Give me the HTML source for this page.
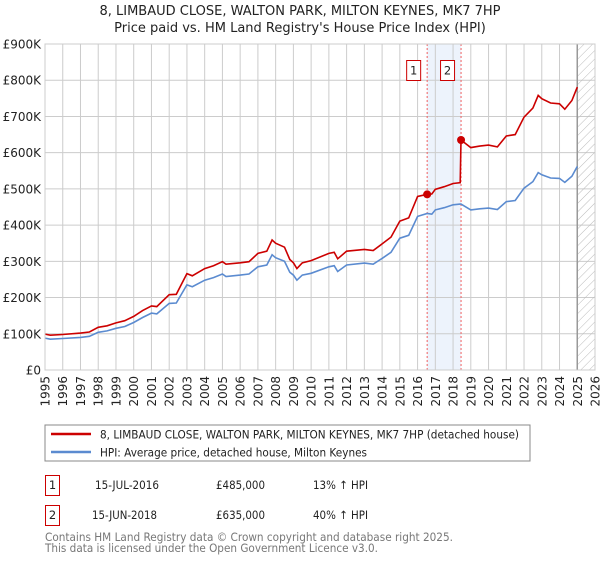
<!DOCTYPE html>
<html><head><meta charset="utf-8"><style>
body{margin:0;background:#fff;font-family:"Liberation Sans","DejaVu Sans",sans-serif}
svg text{font-family:"DejaVu Sans","Liberation Sans",sans-serif}
</style></head><body>
<svg width="600" height="560" xmlns="http://www.w3.org/2000/svg" id="chart">
<defs><pattern id="hatch" width="6" height="6" patternUnits="userSpaceOnUse" patternTransform="rotate(45)"><line x1="0" y1="0" x2="0" y2="6" stroke="#bbb" stroke-width="1"/></pattern></defs>
<text x="300" y="15" text-anchor="middle" font-size="13" fill="#222">8, LIMBAUD CLOSE, WALTON PARK, MILTON KEYNES, MK7 7HP</text>
<text x="300" y="32" text-anchor="middle" font-size="13" fill="#222">Price paid vs. HM Land Registry's House Price Index (HPI)</text>
<g id="grid"></g><g id="marks"></g><g id="axes"></g>
<rect x="45" y="425" width="485" height="36" fill="#fff" stroke="#888"/>
<line x1="51" y1="434" x2="91" y2="434" stroke="#cc0000" stroke-width="2.5"/>
<text x="100" y="438.5" font-size="11.5" fill="#222" textLength="419" lengthAdjust="spacingAndGlyphs">8, LIMBAUD CLOSE, WALTON PARK, MILTON KEYNES, MK7 7HP (detached house)</text>
<line x1="51" y1="452" x2="91" y2="452" stroke="#5b8bd0" stroke-width="2.5"/>
<text x="100" y="456.5" font-size="11.5" fill="#222" textLength="267" lengthAdjust="spacingAndGlyphs">HPI: Average price, detached house, Milton Keynes</text>
<rect x="45.5" y="475.5" width="14" height="20" fill="#fff" stroke="#cc0000"/>
<text x="52.5" y="489" text-anchor="middle" font-size="11.5" fill="#222">1</text>
<text x="95" y="489" font-size="11.5" fill="#222" textLength="64" lengthAdjust="spacingAndGlyphs">15-JUL-2016</text>
<text x="216" y="489" font-size="11.5" fill="#222" textLength="49" lengthAdjust="spacingAndGlyphs">£485,000</text>
<text x="313" y="489" font-size="11.5" fill="#222" textLength="55" lengthAdjust="spacingAndGlyphs">13% ↑ HPI</text>
<rect x="45.5" y="505.5" width="14" height="20" fill="#fff" stroke="#cc0000"/>
<text x="52.5" y="519" text-anchor="middle" font-size="11.5" fill="#222">2</text>
<text x="92" y="519" font-size="11.5" fill="#222" textLength="65" lengthAdjust="spacingAndGlyphs">15-JUN-2018</text>
<text x="216" y="519" font-size="11.5" fill="#222" textLength="49" lengthAdjust="spacingAndGlyphs">£635,000</text>
<text x="313" y="519" font-size="11.5" fill="#222" textLength="55" lengthAdjust="spacingAndGlyphs">40% ↑ HPI</text>
<text x="45" y="541" font-size="11.5" fill="#777" textLength="408" lengthAdjust="spacingAndGlyphs">Contains HM Land Registry data © Crown copyright and database right 2025.</text>
<text x="45" y="552" font-size="11.5" fill="#777" textLength="333" lengthAdjust="spacingAndGlyphs">This data is licensed under the Open Government Licence v3.0.</text>
</svg>
<script>
const times=[1995,1995.3,1996,1997,1997.5,1998,1998.5,1999,1999.5,2000,2000.5,2001,2001.3,2002,2002.4,2003,2003.3,2004,2004.5,2005,2005.2,2006,2006.5,2007,2007.5,2007.8,2008,2008.5,2008.8,2009,2009.2,2009.5,2010,2011,2011.3,2011.5,2012,2013,2013.5,2014,2014.5,2015,2015.5,2016,2016.54,2016.8,2017,2017.5,2018,2018.4,2018.45,2019,2019.5,2020,2020.5,2021,2021.5,2022,2022.5,2022.8,2023,2023.5,2024,2024.3,2024.7,2025];
const hpiValues=[88,85,87,90,93,104,108,115,120,131,145,157,155,184,185,235,230,248,255,265,258,262,265,285,290,318,310,300,270,262,248,262,267,285,288,272,290,295,292,308,325,364,372,424,432,430,442,448,456,458,458,442,445,447,443,465,468,502,520,545,539,530,529,518,535,562];
const propValues=[99,96,98,102,105,118,122,130,136,148,164,177,175,208,209,266,260,280,288,299,292,296,299,322,328,359,350,339,305,296,280,296,302,322,325,307,328,333,330,348,367,411,420,479,485,486,499,506,515,517,635,614,618,621,616,646,650,698,723,758,749,737,735,720,744,781];
const saleTimes=[2016.54,2018.45];
const salePrices=[485,635];
const saleLabels=["1","2"];
const yTicks=[0,100,200,300,400,500,600,700,800,900];
const yTickLabels=["£0","£100K","£200K","£300K","£400K","£500K","£600K","£700K","£800K","£900K"];
const xYears=[1995,1996,1997,1998,1999,2000,2001,2002,2003,2004,2005,2006,2007,2008,2009,2010,2011,2012,2013,2014,2015,2016,2017,2018,2019,2020,2021,2022,2023,2024,2025,2026];
const dataEnd=2025;
const X0=45,X1=595,Y0=370,Y1=44;
const sx=t=>X0+(t-1995)/31*(X1-X0);
const sy=v=>Y0-v/900*(Y0-Y1);
const NS="http://www.w3.org/2000/svg";
function mk(tag,attrs,parent){const e=document.createElementNS(NS,tag);for(const k in attrs)e.setAttribute(k,attrs[k]);document.getElementById(parent).appendChild(e);return e;}
let band=mk('rect',{x:sx(saleTimes[0]),y:Y1,width:sx(saleTimes[1])-sx(saleTimes[0]),height:Y0-Y1,fill:'#edf3fc'},'grid');


xYears.forEach(y=>{const l=mk('line',{x1:sx(y),x2:sx(y),y1:Y1,y2:Y0,stroke:'#cccccc','stroke-width':1},'grid');


const t=mk('text',{x:0,y:0,transform:`translate(${sx(y)+4.5},${Y0+6}) rotate(-90)`,'text-anchor':'end','font-size':12,fill:'#222'},'axes');t.textContent=y;

});
yTicks.forEach((v,i)=>{const l=mk('line',{x1:X0,x2:X1,y1:sy(v),y2:sy(v),stroke:'#cccccc','stroke-width':1},'grid');


const t=mk('text',{x:X0-4,y:sy(v)+4.5,'text-anchor':'end','font-size':12,fill:'#222'},'axes');t.textContent=yTickLabels[i];

});
let h=mk('rect',{x:sx(dataEnd),y:Y1,width:X1-sx(dataEnd),height:Y0-Y1,fill:'url(#hatch)'},'grid');


let hl=mk('line',{x1:sx(dataEnd),x2:sx(dataEnd),y1:Y1,y2:Y0,stroke:'#999','stroke-width':1.5},'grid');


saleTimes.forEach((t,i)=>{const l=mk('line',{x1:sx(t),x2:sx(t),y1:Y1,y2:Y0,stroke:'#f06060','stroke-width':1,'stroke-dasharray':'2,2'},'grid');


const r=mk('rect',{x:sx(t)-20.5,y:60.5,width:14,height:20,fill:'#fff',stroke:'#cc0000'},'axes');


const tx=mk('text',{x:sx(t)-13.5,y:74.5,'text-anchor':'middle','font-size':11.5,fill:'#222'},'axes');tx.textContent=saleLabels[i];

});
const path=(vals)=>times.map((t,i)=>(i?'L':'M')+sx(t).toFixed(1)+','+sy(vals[i]).toFixed(1)).join('');
let hp=mk('path',{d:path(hpiValues),fill:'none',stroke:'#5b8bd0','stroke-width':1.6},'marks');


let pp=mk('path',{d:path(propValues),fill:'none',stroke:'#cc0000','stroke-width':1.6},'marks');


saleTimes.forEach((t,i)=>{const c=mk('circle',{cx:sx(t),cy:sy(salePrices[i]),r:4,fill:'#cc0000'},'marks');

});
let bd=mk('rect',{x:X0,y:Y1,width:X1-X0,height:Y0-Y1,fill:'none',stroke:'#cccccc'},'axes');


</script>
</body></html>
